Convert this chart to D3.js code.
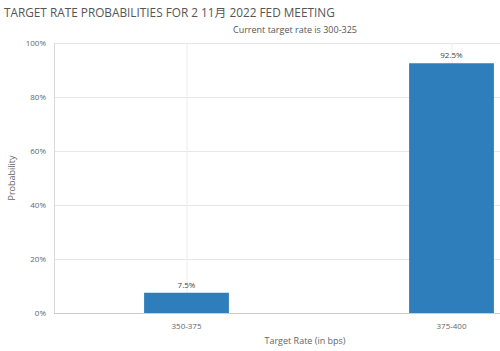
<!DOCTYPE html>
<html>
<head>
<meta charset="utf-8">
<script src="https://cdn.jsdelivr.net/npm/d3@7"></script>
<style>
  body { margin: 0; background: #fff; }
  svg { font-family: "Open Sans", "Noto Sans CJK SC", sans-serif; }
</style>
</head>
<body>
<div id="chart"></div>
<script>
const categories = ["350-375", "375-400"];
const values = [7.5, 92.5];
const yTicks = [0, 20, 40, 60, 80, 100];
const titleText = "TARGET RATE PROBABILITIES FOR 2 11月 2022 FED MEETING";
const subtitleText = "Current target rate is 300-325";

const W = 500, H = 351;
const m = {t: 43, l: 54, b: 38};

const svg = d3.select("#chart").append("svg")
  .attr("width", W)
  .attr("height", H);

const x = d3.scaleBand()
  .domain(categories)
  .range([m.l, 584])
  .paddingInner(0.68)
  .paddingOuter(0.34);

const y = d3.scaleLinear()
  .domain([0, 100])
  .range([H - m.b, m.t]);

// horizontal grid
svg.append("g")
  .selectAll("line")
  .data(yTicks)
  .join("line")
  .attr("x1", m.l).attr("x2", W)
  .attr("y1", d => y(d) + 0.5).attr("y2", d => y(d) + 0.5)
  .attr("stroke", "#e6e6e6");

// vertical grid at category centres
svg.append("g")
  .selectAll("line")
  .data(categories)
  .join("line")
  .attr("x1", d => x(d) + x.bandwidth() / 2 + 0.5)
  .attr("x2", d => x(d) + x.bandwidth() / 2 + 0.5)
  .attr("y1", m.t).attr("y2", H - m.b)
  .attr("stroke", "#ececec");

// left axis line
svg.append("line")
  .attr("x1", m.l + 0.5).attr("x2", m.l + 0.5)
  .attr("y1", m.t).attr("y2", H - m.b)
  .attr("stroke", "#d8d8d8");

const axisY = d3.axisLeft(y)
  .tickValues(yTicks)
  .tickFormat(d => d + "%")
  .tickSize(0)
  .tickPadding(8);

svg.append("g")
  .attr("transform", `translate(${m.l},0)`)
  .call(axisY)
  .call(g => g.select(".domain").remove())
  .selectAll("text")
  .attr("font-size", 8)
  .attr("fill", "#666")
  .attr("font-family", "Open Sans, sans-serif");

// bars
svg.append("g")
  .selectAll("rect")
  .data(values)
  .join("rect")
  .attr("x", (d, i) => x(categories[i]))
  .attr("width", x.bandwidth())
  .attr("y", d => y(d))
  .attr("height", d => y(0) - y(d))
  .attr("fill", "#2f7ebc");

// bar labels
svg.append("g")
  .selectAll("text")
  .data(values)
  .join("text")
  .attr("x", (d, i) => x(categories[i]) + x.bandwidth() / 2)
  .attr("y", d => y(d) - 5)
  .attr("text-anchor", "middle")
  .attr("font-size", 8)
  .attr("fill", "#444")
  .text(d => d + "%");

// bottom axis line
svg.append("line")
  .attr("x1", m.l).attr("x2", W)
  .attr("y1", y(0) + 0.5).attr("y2", y(0) + 0.5)
  .attr("stroke", "#ccc");

const axisX = d3.axisBottom(x).tickSize(0).tickPadding(10);
svg.append("g")
  .attr("transform", `translate(0,${y(0)})`)
  .call(axisX)
  .call(g => g.select(".domain").remove())
  .selectAll("text")
  .attr("font-size", 8)
  .attr("fill", "#666")
  .attr("font-family", "Open Sans, sans-serif");

// titles
svg.append("text")
  .attr("x", 4).attr("y", 17)
  .attr("font-size", 11.8)
  .attr("fill", "#555")
  .text(titleText);

svg.append("text")
  .attr("x", 295).attr("y", 33)
  .attr("text-anchor", "middle")
  .attr("font-size", 9)
  .attr("fill", "#555")
  .text(subtitleText);

svg.append("text")
  .attr("x", 305).attr("y", 344)
  .attr("text-anchor", "middle")
  .attr("font-size", 9)
  .attr("fill", "#666")
  .text("Target Rate (in bps)");

svg.append("text")
  .attr("transform", "translate(15,178) rotate(-90)")
  .attr("text-anchor", "middle")
  .attr("font-size", 9)
  .attr("fill", "#666")
  .text("Probability");
</script>
</body>
</html>
